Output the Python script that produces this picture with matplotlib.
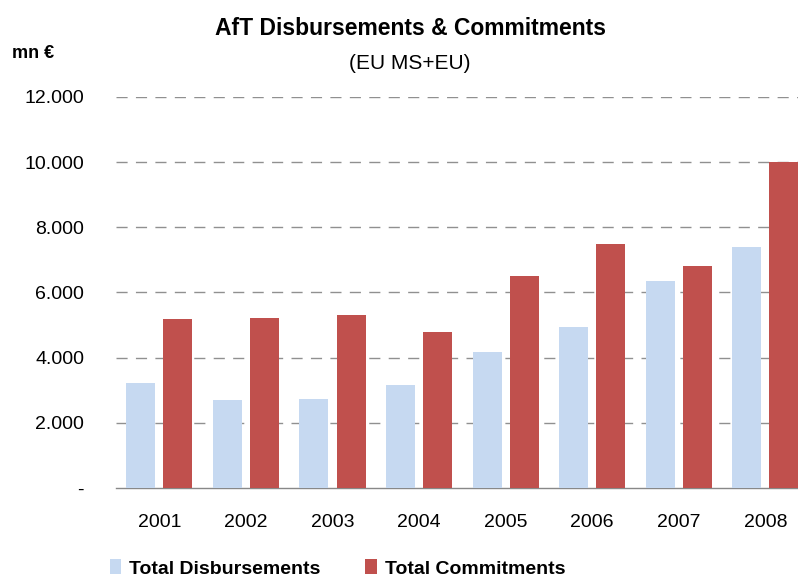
import matplotlib
matplotlib.use("Agg")
import matplotlib.pyplot as plt
import numpy as np
from matplotlib import font_manager as fm

years = ["2001", "2002", "2003", "2004", "2005", "2006", "2007", "2008"]
disbursements = [3220, 2700, 2730, 3160, 4170, 4940, 6350, 7390]
commitments = [5180, 5210, 5300, 4790, 6500, 7480, 6800, 10000]
yticks = [0, 2000, 4000, 6000, 8000, 10000, 12000]
ytick_labels = ["-", "2.000", "4.000", "6.000", "8.000", "10.000", "12.000"]

names = {f.name for f in fm.fontManager.ttflist}
fam = ["Liberation Sans Narrow"] if "Liberation Sans Narrow" in names else ["Liberation Sans"]
plt.rcParams["font.family"] = fam + ["DejaVu Sans"]

fig = plt.figure(figsize=(7.98, 5.78), dpi=100)
ax = fig.add_axes([0.1454, 0.1557, 0.868, 0.6765])

x = np.arange(len(years))
w = 0.335
off = 0.214
ax.bar(x - off, disbursements, width=w, color="#C6D9F1", label="Total Disbursements", zorder=3)
ax.bar(x + off, commitments, width=w, color="#C0504D", label="Total Commitments", zorder=3)

ax.set_xlim(-0.5, len(years) - 0.5)
ax.set_ylim(0, 12000)
ax.set_yticks(yticks)
ax.set_yticklabels(ytick_labels, fontsize=14)
ax.set_xticks(x)
ax.set_xticklabels(years, fontsize=14)
ax.tick_params(axis="both", length=0)
ax.tick_params(axis="y", pad=23)
ax.tick_params(axis="x", pad=19)

for t in yticks[1:]:
    ax.axhline(t, color="#909090", lw=1.0, ls=(0, (8, 6)), zorder=1)
for s in ["top", "right", "left"]:
    ax.spines[s].set_visible(False)
ax.spines["bottom"].set_color("#888888")
ax.spines["bottom"].set_linewidth(1.0)

fig.text(0.514, 0.950, "AfT Disbursements & Commitments", ha="center", va="center",
         fontsize=16.5, fontweight="bold")
fig.text(0.514, 0.891, "(EU MS+EU)", ha="center", va="center", fontsize=15)
fig.text(0.015, 0.908, "mn €", ha="left", va="center", fontsize=13, fontweight="bold")

leg = fig.legend(loc="center left", bbox_to_anchor=(0.1275, 0.0165), ncol=2, frameon=False,
                 prop={"weight": "bold", "size": 14}, handlelength=0.6, handleheight=0.8,
                 handletextpad=0.4, columnspacing=2.3, borderaxespad=0)

fig.savefig("out.png", dpi=100)
